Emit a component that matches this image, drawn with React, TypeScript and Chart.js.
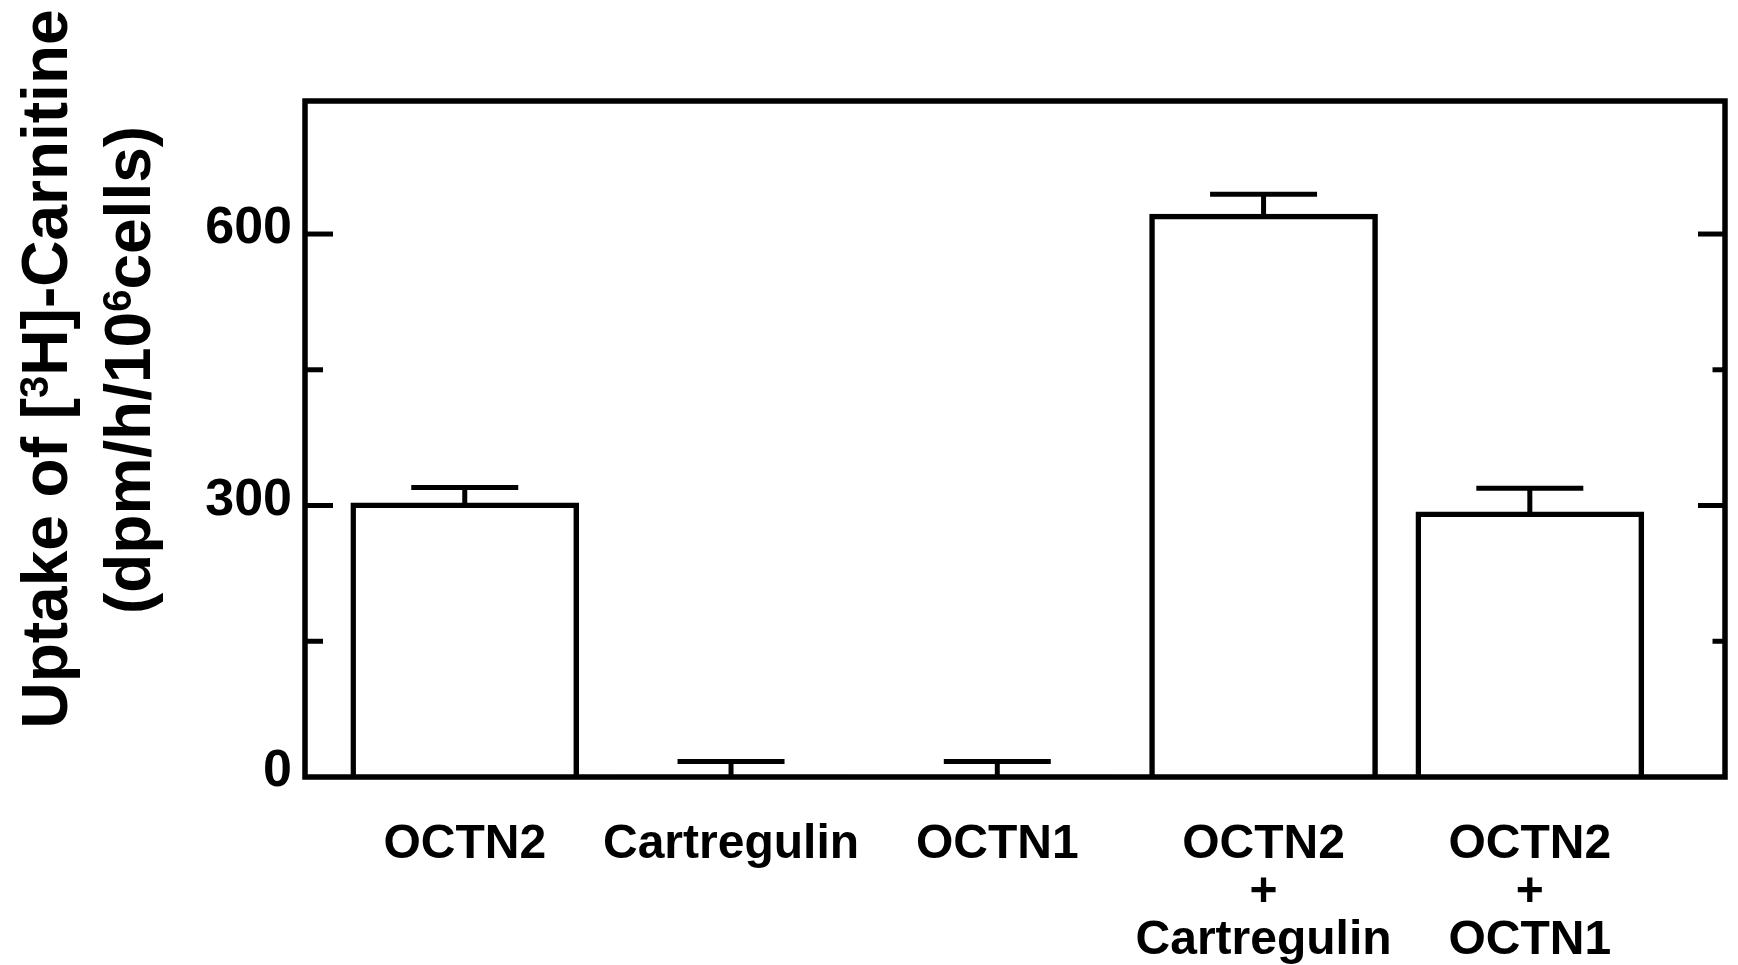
import React, { useEffect, useRef } from 'react';
import { Chart, registerables } from 'chart.js';

Chart.register(...registerables);

// ---- data ----
const categories: string[][] = [
  ['OCTN2'],
  ['Cartregulin'],
  ['OCTN1'],
  ['OCTN2', '+', 'Cartregulin'],
  ['OCTN2', '+', 'OCTN1'],
];
const uptake = [303, 2, 2, 622, 293];
const sem = [17, 15, 15, 22, 26];
const yTickValues = [0, 150, 300, 450, 600];
const yLabeledValues = [0, 300, 600];
const yMajorMarks = [300, 600];
const yMinorMarks = [150, 450];

const W = 1738;
const H = 965;
const FONT = "'Liberation Sans', Arial, Helvetica, sans-serif";

const framePlugin = {
  id: 'frameAndErrors',
  afterDatasetsDraw(chart: any) {
    const { ctx, chartArea } = chart;
    const y = chart.scales.y;
    const { left, right, top, bottom } = chartArea;
    ctx.save();
    ctx.strokeStyle = '#000';
    ctx.lineCap = 'butt';
    // error bars
    const meta = chart.getDatasetMeta(0);
    meta.data.forEach((bar: any, i: number) => {
      const x = bar.x;
      const yv = y.getPixelForValue(uptake[i]);
      const ye = y.getPixelForValue(uptake[i] + sem[i]);
      ctx.lineWidth = 5;
      ctx.beginPath();
      ctx.moveTo(x, yv + 2);
      ctx.lineTo(x, ye);
      ctx.stroke();
      ctx.beginPath();
      ctx.moveTo(x - 53.5, ye);
      ctx.lineTo(x + 53.5, ye);
      ctx.stroke();
    });
    // frame
    ctx.lineWidth = 5.5;
    ctx.strokeRect(left, top, right - left, bottom - top);
    // inward tick marks
    ctx.lineWidth = 5;
    const mark = (v: number, lenL: number, lenR: number) => {
      const py = y.getPixelForValue(v);
      ctx.beginPath();
      ctx.moveTo(left, py);
      ctx.lineTo(left + lenL, py);
      ctx.stroke();
      ctx.beginPath();
      ctx.moveTo(right, py);
      ctx.lineTo(right - lenR, py);
      ctx.stroke();
    };
    yMajorMarks.forEach((v) => mark(v, 28, 27));
    yMinorMarks.forEach((v) => mark(v, 18, 12.5));
    ctx.restore();
  },
  afterDraw(chart: any) {
    const { ctx } = chart;
    const size = 64;
    const supSize = 40;
    const rise = 19;
    const drawLine = (cx: number, cy: number, parts: { t: string; sup?: boolean }[]) => {
      ctx.save();
      ctx.translate(cx, cy);
      ctx.rotate(-Math.PI / 2);
      ctx.fillStyle = '#000';
      ctx.textBaseline = 'alphabetic';
      ctx.textAlign = 'left';
      let total = 0;
      const widths = parts.map((p) => {
        ctx.font = `bold ${p.sup ? supSize : size}px ${FONT}`;
        const w = ctx.measureText(p.t).width;
        total += w;
        return w;
      });
      let x = -total / 2;
      parts.forEach((p, i) => {
        ctx.font = `bold ${p.sup ? supSize : size}px ${FONT}`;
        ctx.fillText(p.t, x, p.sup ? -rise : 0);
        x += widths[i];
      });
      ctx.restore();
    };
    drawLine(67, 369, [{ t: 'Uptake of [' }, { t: '3', sup: true }, { t: 'H]-Carnitine' }]);
    drawLine(150, 370, [{ t: '(dpm/h/10' }, { t: '6', sup: true }, { t: 'cells)' }]);
  },
};

export default function App() {
  const ref = useRef<HTMLCanvasElement | null>(null);
  useEffect(() => {
    document.body.style.margin = '0';
    const canvas = ref.current;
    if (!canvas) return;
    const chart = new Chart(canvas, {
      type: 'bar',
      data: {
        datasets: [
          {
            data: uptake.map((v, i) => ({ x: i + 1, y: v })),
            backgroundColor: '#ffffff',
            borderColor: '#000000',
            borderWidth: 5.5,
            borderSkipped: 'start',
            barThickness: 228,
          },
        ],
      },
      options: {
        responsive: false,
        animation: false,
        events: [],
        layout: { padding: { left: 0, right: 13, top: 101, bottom: 0 } },
        plugins: { legend: { display: false }, tooltip: { enabled: false }, title: { display: false } },
        scales: {
          x: {
            type: 'linear',
            offset: false,
            min: 0.4,
            max: 5.733,
            grid: { display: false, drawTicks: false, offset: false },
            border: { display: false },
            afterBuildTicks: (s: any) => {
              s.ticks = categories.map((_, i) => ({ value: i + 1 }));
            },
            afterFit: (s: any) => {
              s.height = H - 777;
            },
            ticks: {
              autoSkip: false,
              maxRotation: 0,
              minRotation: 0,
              padding: 44,
              color: '#000',
              font: { family: FONT, size: 48, weight: 'bold', lineHeight: 1.0 },
              callback: (v: any) => {
                const idx = Math.round(Number(v)) - 1;
                return categories[idx] || '';
              },
            },
          },
          y: {
            type: 'linear',
            min: 0,
            max: 747,
            grid: { display: false, drawTicks: false },
            border: { display: false },
            afterBuildTicks: (s: any) => {
              s.ticks = yTickValues.map((v) => ({ value: v }));
            },
            afterFit: (s: any) => {
              s.width = 305;
            },
            ticks: {
              includeBounds: false,
              autoSkip: false,
              padding: 13,
              labelOffset: -5,
              color: '#000',
              font: { family: FONT, size: 52, weight: 'bold' },
              callback: (v: any) => (yLabeledValues.includes(Number(v)) ? String(v) : ''),
            },
          },
        },
      },
      plugins: [framePlugin],
    } as any);
    return () => chart.destroy();
  }, []);
  return (
    <div style={{ position: 'absolute', left: 0, top: 0, width: W, height: H, background: '#fff' }}>
      <canvas ref={ref} width={W} height={H} style={{ display: 'block', width: W, height: H }} />
    </div>
  );
}
